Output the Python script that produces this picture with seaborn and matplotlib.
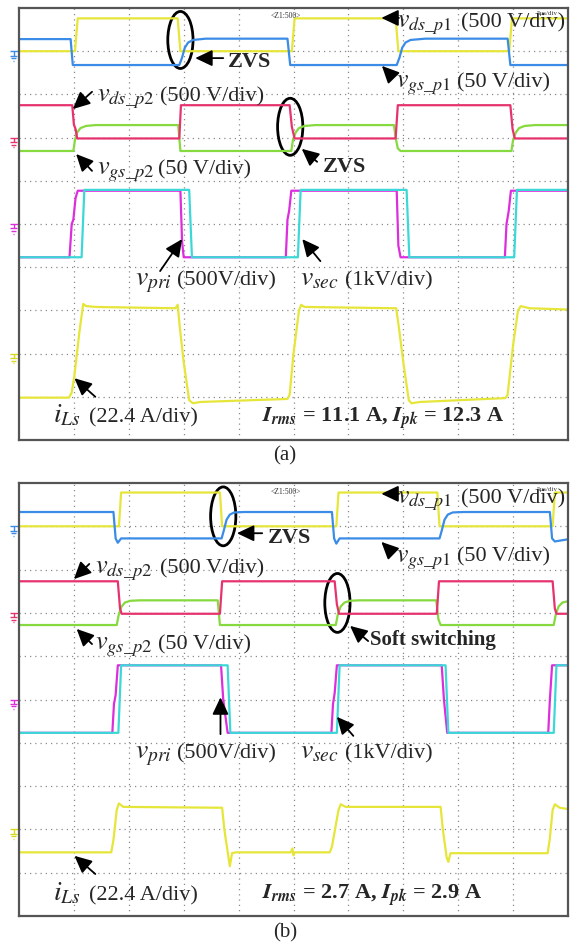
import matplotlib
matplotlib.use('Agg')
import matplotlib.pyplot as plt
import seaborn as sns
from matplotlib.patches import Ellipse

# ---------------- data (oscilloscope divisions: x 0..10, y 0..10) ----------------
# Panel (a)
a_vds_p1_t = [0, 1.02, 1.07, 2.89, 2.94, 4.97, 5.02, 6.86, 6.91, 8.93, 8.98, 10]
a_vds_p1_v = [9.0, 9.0, 9.76, 9.76, 9.0, 9.0, 9.76, 9.76, 9.0, 9.0, 9.76, 9.76]
a_vgs_p1_t = [0, 0.94, 0.98, 2.92, 2.97, 3.02, 3.08, 3.17, 3.4, 4.89, 4.94, 6.88, 6.93, 6.98, 7.04, 7.13, 7.4, 8.9, 8.95, 10]
a_vgs_p1_v = [9.28, 9.28, 8.68, 8.68, 8.85, 9.08, 9.2, 9.26, 9.29, 9.29, 8.68, 8.68, 8.85, 9.08, 9.2, 9.26, 9.29, 9.29, 8.68, 8.68]
a_vds_p2_t = [0, 0.97, 1.0, 1.03, 1.06, 2.92, 2.95, 4.93, 4.97, 5.02, 6.86, 6.9, 8.95, 8.99, 9.03, 10]
a_vds_p2_v = [7.75, 7.75, 7.3, 7.2, 6.98, 6.98, 7.75, 7.75, 7.25, 6.98, 6.98, 7.75, 7.75, 7.2, 6.98, 6.98]
a_vgs_p2_t = [0, 0.99, 1.02, 1.06, 1.12, 1.22, 1.4, 2.9, 2.94, 4.96, 4.99, 5.04, 5.1, 5.2, 5.4, 6.83, 6.86, 6.9, 6.95, 8.97, 9.0, 9.05, 9.11, 9.21, 9.4, 10]
a_vgs_p2_v = [6.69, 6.69, 6.95, 7.12, 7.22, 7.27, 7.29, 7.29, 6.69, 6.69, 6.95, 7.12, 7.22, 7.27, 7.29, 7.29, 7.0, 6.75, 6.69, 6.69, 6.95, 7.12, 7.22, 7.27, 7.29, 7.29]
a_vpri_t = [0, 0.92, 0.96, 0.99, 1.03, 1.07, 2.94, 2.97, 3.0, 4.86, 4.89, 4.92, 4.96, 6.88, 6.91, 6.95, 8.85, 8.88, 8.92, 8.96, 10]
a_vpri_v = [4.23, 4.23, 5.0, 5.1, 5.6, 5.77, 5.77, 4.6, 4.23, 4.23, 5.1, 5.3, 5.77, 5.77, 4.5, 4.23, 4.23, 5.0, 5.3, 5.77, 5.77]
a_vsec_t = [0, 1.14, 1.19, 3.1, 3.15, 5.08, 5.13, 7.06, 7.11, 9.02, 9.07, 10]
a_vsec_v = [4.23, 4.23, 5.79, 5.79, 4.23, 4.23, 5.79, 5.79, 4.23, 4.23, 5.79, 5.79]
a_ils_t = [0, 0.91, 0.96, 1.01, 1.1, 1.17, 1.22, 1.4, 2.85, 2.89, 2.93, 3.0, 3.1, 3.17, 3.3, 4.89, 4.93, 5.0, 5.1, 5.14, 5.2, 6.87, 6.92, 7.0, 7.1, 7.15, 7.3, 8.86, 8.9, 9.0, 9.09, 9.14, 9.3, 10]
a_ils_v = [0.98, 0.98, 1.1, 1.5, 2.5, 3.15, 3.1, 3.08, 3.05, 3.13, 2.6, 1.8, 0.92, 0.85, 0.88, 0.95, 1.05, 2.0, 3.0, 3.13, 3.08, 3.05, 2.6, 1.8, 0.92, 0.85, 0.88, 0.97, 1.05, 2.2, 3.0, 3.1, 3.05, 3.02]

# Panel (b)
b_vds_p1_t = [0, 1.82, 1.86, 3.66, 3.7, 5.78, 5.82, 7.62, 7.66, 9.72, 9.76, 10]
b_vds_p1_v = [9.0, 9.0, 9.78, 9.78, 9.0, 9.0, 9.78, 9.78, 9.0, 9.0, 9.78, 9.78]
b_vgs_p1_t = [0, 1.72, 1.76, 1.8, 1.86, 3.69, 3.73, 3.78, 3.84, 3.92, 4.1, 5.7, 5.74, 5.78, 5.84, 7.66, 7.7, 7.75, 7.81, 7.9, 8.1, 9.67, 9.71, 9.76, 10]
b_vgs_p1_v = [9.33, 9.33, 8.72, 8.62, 8.72, 8.72, 8.9, 9.15, 9.27, 9.32, 9.33, 9.33, 8.72, 8.6, 8.72, 8.72, 8.9, 9.15, 9.27, 9.32, 9.33, 9.33, 8.72, 8.65, 8.7]
b_vds_p2_t = [0, 1.8, 1.84, 1.87, 3.66, 3.7, 5.75, 5.79, 5.83, 7.61, 7.65, 9.72, 9.76, 9.79, 10]
b_vds_p2_v = [7.73, 7.73, 7.1, 6.98, 6.98, 7.73, 7.73, 7.2, 6.98, 6.98, 7.73, 7.73, 7.1, 6.98, 6.98]
b_vgs_p2_t = [0, 1.78, 1.82, 1.87, 1.93, 2.03, 2.2, 3.62, 3.66, 5.77, 5.81, 5.86, 5.93, 6.03, 6.2, 7.6, 7.64, 7.68, 9.74, 9.78, 9.83, 9.9, 10]
b_vgs_p2_v = [6.72, 6.72, 6.98, 7.15, 7.24, 7.28, 7.29, 7.29, 6.72, 6.72, 6.98, 7.15, 7.24, 7.28, 7.29, 7.29, 6.85, 6.72, 6.72, 6.98, 7.15, 7.24, 7.27]
b_vpri_t = [0, 1.7, 1.73, 1.76, 1.8, 3.68, 3.72, 3.8, 5.69, 5.72, 5.75, 5.79, 7.7, 7.74, 7.8, 9.64, 9.67, 9.71, 10]
b_vpri_v = [4.23, 4.23, 4.9, 5.1, 5.79, 5.79, 5.0, 4.23, 4.23, 4.9, 5.15, 5.79, 5.79, 5.0, 4.23, 4.23, 5.0, 5.79, 5.79]
b_vsec_t = [0, 1.81, 1.86, 3.8, 3.85, 5.79, 5.84, 7.77, 7.82, 9.74, 9.79, 10]
b_vsec_v = [4.23, 4.23, 5.79, 5.79, 4.23, 4.23, 5.79, 5.79, 4.23, 4.23, 5.79, 5.79]
b_ils_t = [0, 1.68, 1.72, 1.78, 1.82, 1.9, 3.7, 3.74, 3.81, 3.84, 3.88, 3.95, 4.95, 4.98, 5.0, 5.02, 5.66, 5.7, 5.82, 5.86, 5.95, 7.68, 7.72, 7.79, 7.82, 7.86, 7.95, 9.63, 9.67, 9.72, 9.76, 9.85, 10]
b_ils_v = [1.47, 1.47, 1.75, 2.45, 2.6, 2.52, 2.5, 2.0, 1.4, 1.15, 1.45, 1.47, 1.47, 1.56, 1.4, 1.47, 1.47, 1.6, 2.45, 2.58, 2.52, 2.52, 2.0, 1.35, 1.25, 1.45, 1.45, 1.45, 1.8, 2.45, 2.58, 2.5, 2.47]

# text labels
sym_labels = [r'$v_{ds\_p1}$', r'$v_{gs\_p1}$', r'$v_{ds\_p2}$', r'$v_{gs\_p2}$',
              r'$v_{pri}$', r'$v_{sec}$', r'$i_{Ls}$']
scale_labels = ['(500 V/div)', '(50 V/div)', '(500 V/div)', '(50 V/div)',
                '(500V/div)', '(1kV/div)', '(22.4 A/div)']
a_current_text = r'$\mathbfit{I}_{\mathbfit{rms}}$ = 11.1 A, $\mathbfit{I}_{\mathbfit{pk}}$ = 12.3 A'
b_current_text = r'$\mathbfit{I}_{\mathbfit{rms}}$ = 2.7 A, $\mathbfit{I}_{\mathbfit{pk}}$ = 2.9 A'
captions = ['(a)', '(b)']

# ---------------- styling ----------------
sns.set_theme(style='white')
plt.rcParams['font.family'] = ['Liberation Serif', 'DejaVu Serif']
plt.rcParams['mathtext.fontset'] = 'stix'

C_YEL = '#E6E63A'
C_BLU = '#3A8CE6'
C_PNK = '#E6336E'
C_GRN = '#86D93E'
C_MAG = '#DD2EDD'
C_CYN = '#3CD8D8'

W, H = 571, 945
fig = plt.figure(figsize=(W / 100, H / 100), dpi=100)


def add_axes(left, top, right, bottom):
    return fig.add_axes([left / W, 1 - bottom / H, (right - left) / W, (bottom - top) / H])


axA = add_axes(19, 9, 568, 441)
axB = add_axes(19, 484, 568, 917)


def setup(ax):
    ax.set_xlim(0, 10)
    ax.set_ylim(0, 10)
    ax.set_xticks([])
    ax.set_yticks([])
    for s in ax.spines.values():
        s.set_color('#555555')
        s.set_linewidth(1.6)
    for i in range(1, 10):
        ax.axvline(i, color='#8a8a8a', lw=0.9, ls=(0, (1, 3.2)), zorder=0)
        ax.axhline(i, color='#8a8a8a', lw=0.9, ls=(0, (1, 3.2)), zorder=0)


def trace(ax, t, v, c):
    sns.lineplot(x=t, y=v, ax=ax, color=c, lw=1.6, sort=False, estimator=None)


def arrow(ax, tail, tip):
    ax.annotate('', xy=tip, xytext=tail,
                arrowprops=dict(arrowstyle='-|>,head_length=0.8,head_width=0.38',
                                color='black', lw=1.3, shrinkA=0, shrinkB=0,
                                mutation_scale=13))


def label(ax, i, x_sym, x_scale, yb, sym_size=20):
    ax.text(x_sym, yb, sym_labels[i], fontsize=sym_size, va='baseline', ha='left')
    ax.text(x_scale, yb, scale_labels[i], fontsize=16, va='baseline', ha='left')


def grounds(ax, ys, cols):
    # channel ground-reference markers drawn as small shapes left of the frame
    for y, c in zip(ys, cols):
        kw = dict(color=c, lw=1.0, clip_on=False, solid_capstyle='butt')
        x0 = -0.1
        ax.plot([-0.17, -0.02], [y, y], **kw)
        ax.plot([x0, x0], [y, y - 0.1], **kw)
        ax.plot([x0 - 0.06, x0 + 0.06], [y - 0.1, y - 0.1], **kw)
        ax.plot([x0 - 0.04, x0 + 0.04], [y - 0.16, y - 0.16], **kw)
        ax.plot([x0 - 0.015, x0 + 0.015], [y - 0.22, y - 0.22], **kw)


for ax in (axA, axB):
    setup(ax)

# ---- panel (a) ----
trace(axA, a_vds_p1_t, a_vds_p1_v, C_YEL)
trace(axA, a_vgs_p1_t, a_vgs_p1_v, C_BLU)
trace(axA, a_vgs_p2_t, a_vgs_p2_v, C_GRN)
trace(axA, a_vds_p2_t, a_vds_p2_v, C_PNK)
trace(axA, a_vpri_t, a_vpri_v, C_MAG)
trace(axA, a_vsec_t, a_vsec_v, C_CYN)
trace(axA, a_ils_t, a_ils_v, C_YEL)
grounds(axA, [9, 7, 5, 2], [C_BLU, C_PNK, C_MAG, '#D8D820'])

axA.add_patch(Ellipse((2.94, 9.26), 0.46, 1.32, fill=False, ec='black', lw=2.0))
axA.add_patch(Ellipse((4.94, 7.25), 0.46, 1.32, fill=False, ec='black', lw=2.0))
axA.text(3.8, 8.66, 'ZVS', fontsize=16, fontweight='bold', va='baseline')
arrow(axA, (3.72, 8.84), (3.21, 8.84))
axA.text(5.54, 6.23, 'ZVS', fontsize=16, fontweight='bold', va='baseline')
arrow(axA, (5.43, 6.44), (5.15, 6.74))

label(axA, 0, 6.88, 8.05, 9.58, 18.5)
arrow(axA, (6.92, 9.77), (6.6, 9.77))
label(axA, 1, 6.86, 7.97, 8.19, 18.5)
arrow(axA, (6.81, 8.4), (6.61, 8.66))
label(axA, 2, 1.42, 2.57, 7.85, 19)
arrow(axA, (1.33, 8.06), (0.98, 7.66))
label(axA, 3, 1.42, 2.53, 6.16, 19)
arrow(axA, (1.33, 6.23), (1.04, 6.62))
label(axA, 4, 2.11, 2.88, 3.61)
arrow(axA, (2.57, 3.91), (2.97, 4.65))
label(axA, 5, 5.12, 5.94, 3.61)
arrow(axA, (5.49, 4.14), (5.16, 4.65))
label(axA, 6, 0.62, 1.28, 0.42)
arrow(axA, (1.39, 1.0), (1.01, 1.43))
axA.text(4.43, 0.42, a_current_text, fontsize=16, fontweight='bold', va='baseline')
axA.text(4.86, 9.93, '<Z1:500>', fontsize=5.5, ha='center', va='top', color='#333333')
axA.text(9.62, 9.95, '5μs/div', fontsize=5, ha='center', va='top', color='#333333')

# ---- panel (b) ----
trace(axB, b_vds_p1_t, b_vds_p1_v, C_YEL)
trace(axB, b_vgs_p1_t, b_vgs_p1_v, C_BLU)
trace(axB, b_vgs_p2_t, b_vgs_p2_v, C_GRN)
trace(axB, b_vds_p2_t, b_vds_p2_v, C_PNK)
trace(axB, b_vpri_t, b_vpri_v, C_MAG)
trace(axB, b_vsec_t, b_vsec_v, C_CYN)
trace(axB, b_ils_t, b_ils_v, C_YEL)
grounds(axB, [9, 7, 5, 2], [C_BLU, C_PNK, C_MAG, '#D8D820'])

axB.add_patch(Ellipse((3.72, 9.23), 0.46, 1.36, fill=False, ec='black', lw=2.0))
axB.add_patch(Ellipse((5.8, 7.23), 0.46, 1.36, fill=False, ec='black', lw=2.0))
axB.text(4.54, 8.64, 'ZVS', fontsize=16, fontweight='bold', va='baseline')
arrow(axB, (4.43, 8.84), (3.97, 8.84))
axB.text(6.39, 6.28, 'Soft switching', fontsize=15, fontweight='bold', va='baseline')
arrow(axB, (6.36, 6.35), (6.03, 6.7))

label(axB, 0, 6.88, 8.05, 9.56, 18.5)
arrow(axB, (6.92, 9.75), (6.6, 9.75))
label(axB, 1, 6.86, 7.97, 8.2, 18.5)
arrow(axB, (6.81, 8.38), (6.6, 8.64))
label(axB, 2, 1.38, 2.57, 7.94, 19)
arrow(axB, (1.28, 8.13), (1.0, 7.78))
label(axB, 3, 1.38, 2.53, 6.17, 19)
arrow(axB, (1.33, 6.28), (1.05, 6.63))
label(axB, 4, 2.11, 2.88, 3.67)
arrow(axB, (3.67, 4.2), (3.67, 5.05))
label(axB, 5, 5.12, 5.94, 3.67)
arrow(axB, (6.09, 4.16), (5.79, 4.6))
label(axB, 6, 0.62, 1.28, 0.39)
arrow(axB, (1.39, 0.97), (1.01, 1.39))
axB.text(4.43, 0.39, b_current_text, fontsize=16, fontweight='bold', va='baseline')
axB.text(4.86, 9.9, '<Z1:500>', fontsize=5.5, ha='center', va='top', color='#333333')
axB.text(9.62, 9.93, '5μs/div', fontsize=5, ha='center', va='top', color='#333333')

fig.text(285 / W, 1 - 456 / H, captions[0], ha='center', va='center', fontsize=15)
fig.text(285 / W, 1 - 933 / H, captions[1], ha='center', va='center', fontsize=15)

fig.savefig('out.png', dpi=100)
